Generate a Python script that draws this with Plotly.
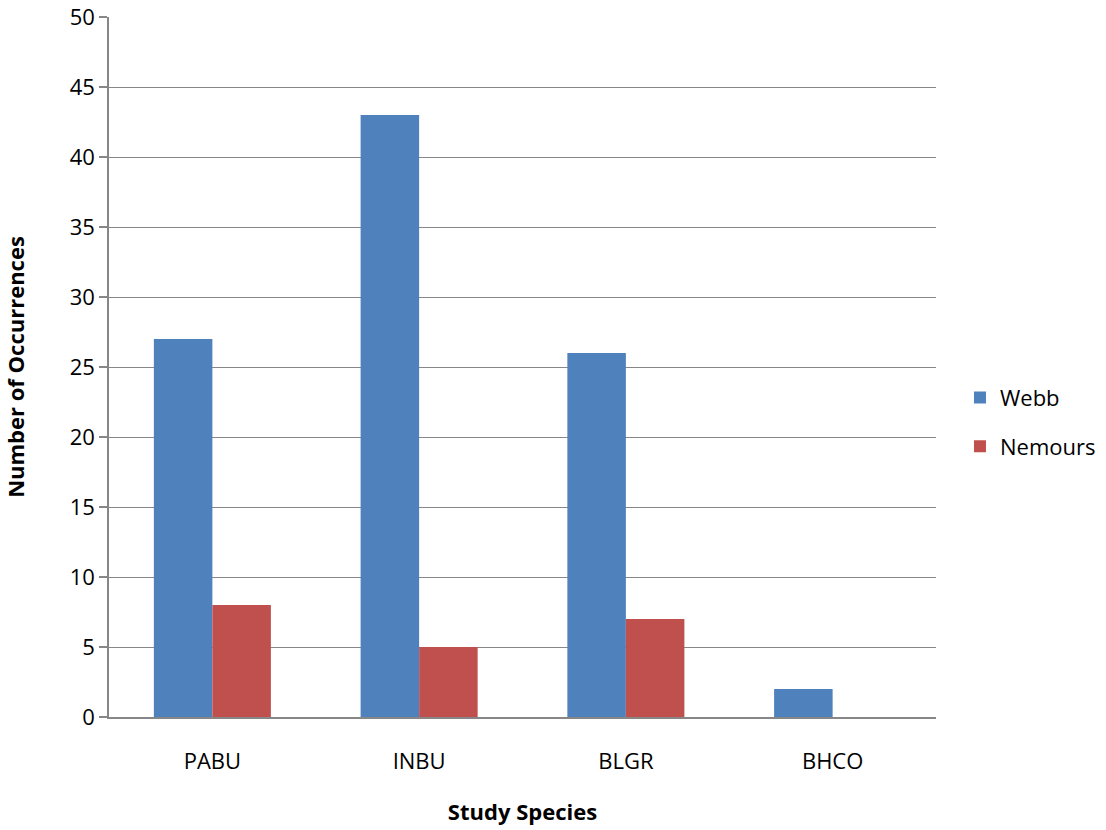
import plotly.graph_objects as go

categories = ["PABU", "INBU", "BLGR", "BHCO"]
webb = [27, 43, 26, 2]
nemours = [8, 5, 7, 0]
y_ticks = [0, 5, 10, 15, 20, 25, 30, 35, 40, 45, 50]

FONT = "Open Sans"

fig = go.Figure()
fig.add_trace(go.Bar(name="Webb", x=categories, y=webb, marker_color="#4F81BD",
                     marker_line_width=0, legendgroup="a"))
fig.add_trace(go.Bar(name="Nemours", x=categories, y=nemours, marker_color="#C0504D",
                     marker_line_width=0, legendgroup="b"))

fig.update_layout(
    width=1106, height=830,
    margin=dict(l=109, r=170, t=17, b=113, autoexpand=False),
    plot_bgcolor="white", paper_bgcolor="white",
    barmode="group", bargap=0.434, bargroupgap=0,
    font=dict(family=FONT, size=22, color="black"),
    legend=dict(x=1.029, y=0.421, xanchor="left", yanchor="middle",
                tracegroupgap=17, font=dict(size=22), traceorder="grouped"),
    showlegend=True,
)
fig.update_xaxes(
    showline=True, linecolor="#878787", linewidth=1.5,
    ticks="", tickfont=dict(size=22), ticklabelstandoff=24,
    title=dict(text="<b>Study Species</b>", font=dict(size=22), standoff=30),
)
fig.update_yaxes(
    range=[0, 50], tickvals=y_ticks, showline=True, linecolor="#878787", linewidth=1.5,
    showgrid=True, gridcolor="#878787", gridwidth=1.2,
    ticks="outside", ticklen=8, tickcolor="#878787", tickwidth=1.5,
    tickfont=dict(size=22), zeroline=False,
    title=dict(text="<b>Number of Occurrences</b>", font=dict(size=22), standoff=40),
)

fig.write_html("out.html", config={"displayModeBar": False},
               post_script="document.body.style.margin='0';")
